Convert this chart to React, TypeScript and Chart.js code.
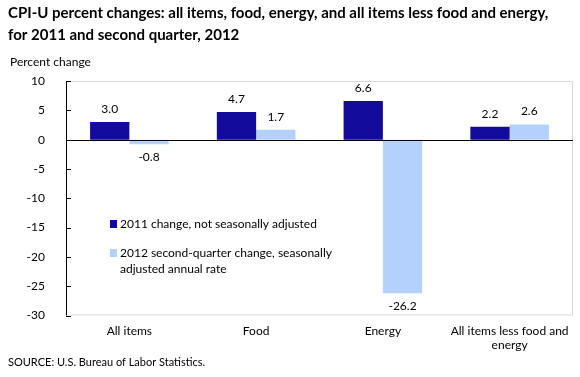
import React, { useEffect, useRef } from "react";
import { Chart, registerables } from "chart.js";

Chart.register(...registerables);

const categories: string[][] = [["All items"], ["Food"], ["Energy"], ["All items less food and", "energy"]];
const series2011: number[] = [3.0, 4.7, 6.6, 2.2];
const series2012: number[] = [-0.8, 1.7, -26.2, 2.6];
const seriesNames: string[][] = [
  ["2011 change, not seasonally adjusted"],
  ["2012 second-quarter change, seasonally", "adjusted annual rate"],
];
const titleLines: string[] = [
  "CPI-U percent changes: all items, food, energy, and all items less food and energy,",
  "for 2011 and second quarter, 2012",
];
const yAxisTitle = "Percent change";
const sourceText = "SOURCE: U.S. Bureau of Labor Statistics.";
const yMin = -30;
const yMax = 10;
const yStep = 5;

const DARK = "#130b9c";
const LIGHT = "#b3d1fc";
const FONT = "Lato, 'Open Sans', sans-serif";

const decorPlugin = {
  id: "decor",
  beforeDatasetsDraw(chart: any) {
    const { ctx, chartArea: a } = chart;
    ctx.save();
    ctx.strokeStyle = "#d9d9d9";
    ctx.lineWidth = 1;
    ctx.beginPath();
    ctx.moveTo(a.left, a.top + 0.5);
    ctx.lineTo(a.right - 0.5, a.top + 0.5);
    ctx.lineTo(a.right - 0.5, a.bottom - 0.5);
    ctx.lineTo(a.left, a.bottom - 0.5);
    ctx.stroke();
    ctx.restore();
  },
  afterDatasetsDraw(chart: any) {
    const { ctx, chartArea: a, scales } = chart;
    const y = scales.y;
    ctx.save();
    const y0 = Math.round(y.getPixelForValue(0)) + 0.5;
    ctx.strokeStyle = "#000";
    ctx.lineWidth = 1;
    ctx.beginPath();
    ctx.moveTo(a.left, y0);
    ctx.lineTo(a.right, y0);
    ctx.stroke();
    ctx.beginPath();
    ctx.moveTo(a.left + 0.5, a.top);
    ctx.lineTo(a.left + 0.5, a.bottom);
    for (let v = yMin; v <= yMax; v += yStep) {
      const py = Math.round(y.getPixelForValue(v)) + 0.5;
      ctx.moveTo(a.left, py);
      ctx.lineTo(a.left + 5, py);
    }
    ctx.stroke();

    ctx.font = `12px ${FONT}`;
    ctx.fillStyle = "#000";
    ctx.textAlign = "center";
    ctx.textBaseline = "middle";
    chart.data.datasets.forEach((ds: any, di: number) => {
      const meta = chart.getDatasetMeta(di);
      meta.data.forEach((bar: any, i: number) => {
        const v = ds.data[i];
        const ly = v >= 0 ? bar.y - 13 : bar.y + 13;
        ctx.fillText(v.toFixed(1), bar.x, ly);
      });
    });

    const colors = [DARK, LIGHT];
    const legendY = [224, 253];
    ctx.textAlign = "left";
    seriesNames.forEach((lines, i) => {
      ctx.fillStyle = colors[i];
      ctx.fillRect(110, legendY[i] - 4, 7, 8);
      ctx.fillStyle = "#000";
      lines.forEach((l, j) => ctx.fillText(l, 120, legendY[i] + j * 16));
    });

    ctx.font = `bold 15px ${FONT}`;
    titleLines.forEach((l, j) => ctx.fillText(l, 8, 13 + j * 22));
    ctx.font = `12px ${FONT}`;
    ctx.fillText(yAxisTitle, 10, 62);
    ctx.font = `11px ${FONT}`;
    ctx.fillText(sourceText, 8, 362);
    ctx.restore();
  },
};

export default function App() {
  const ref = useRef<HTMLCanvasElement>(null);
  useEffect(() => {
    if (!ref.current) return;
    const chart = new Chart(ref.current, {
      type: "bar",
      data: {
        labels: categories,
        datasets: [
          { label: seriesNames[0].join(" "), data: series2011, backgroundColor: DARK, categoryPercentage: 0.62, barPercentage: 1 },
          { label: seriesNames[1].join(" "), data: series2012, backgroundColor: LIGHT, categoryPercentage: 0.62, barPercentage: 1 },
        ],
      },
      options: {
        responsive: false,
        animation: false,
        layout: { padding: { top: 81, right: 7, left: 0, bottom: 0 } },
        plugins: { legend: { display: false }, tooltip: { enabled: false }, title: { display: false } },
        scales: {
          x: {
            grid: { display: false },
            border: { display: false },
            ticks: { color: "#000", font: { family: FONT, size: 12 }, padding: 0, maxRotation: 0, autoSkip: false },
            afterFit: (s: any) => { s.height = 61.5; },
          },
          y: {
            min: yMin,
            max: yMax,
            grid: { display: false },
            border: { display: false },
            ticks: { stepSize: yStep, color: "#000", font: { family: FONT, size: 12 }, padding: 13 },
            afterFit: (s: any) => { s.width = 66; },
          },
        },
      },
      plugins: [decorPlugin],
    });
    return () => chart.destroy();
  }, []);
  return (
    <div style={{ position: "absolute", left: 0, top: 0, width: 580, height: 377, background: "#fff" }}>
      <canvas ref={ref} width={580} height={377} />
    </div>
  );
}
